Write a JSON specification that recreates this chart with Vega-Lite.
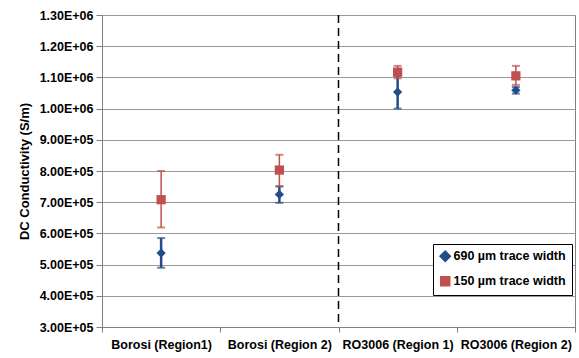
{
  "$schema": "https://vega.github.io/schema/vega-lite/v6.json",
  "autosize": "none",
  "width": 473,
  "height": 312,
  "padding": {"left": 102, "top": 15, "right": 4, "bottom": 31},
  "background": "white",
  "config": {
    "font": "Liberation Sans",
    "view": {"stroke": "#808080", "strokeWidth": 1},
    "axisY": {
      "labelFont": "Liberation Sans",
      "labelFontWeight": "bold",
      "labelFontSize": 12.5,
      "labelColor": "black",
      "labelPadding": 3,
      "labelOverlap": false,
      "tickColor": "#808080",
      "tickSize": 6,
      "domainColor": "#808080",
      "gridColor": "#9a9a9a",
      "gridWidth": 1.2,
      "titleFont": "Liberation Sans",
      "titleFontWeight": "bold",
      "titleFontSize": 13,
      "titleColor": "black",
      "titlePadding": 8
    },
    "legend": {
      "orient": "none",
      "legendX": 331,
      "legendY": 229,
      "strokeColor": "black",
      "fillColor": "white",
      "padding": 6,
      "rowPadding": 7,
      "symbolSize": 80,
      "symbolOpacity": 1,
      "symbolStrokeWidth": 0,
      "labelFont": "Liberation Sans",
      "labelFontWeight": "bold",
      "labelFontSize": 12.5,
      "labelColor": "black",
      "labelOffset": 2
    }
  },
  "datasets": {
    "cond": [
      {"sample": "Borosi (Region1)", "trace": "690 µm trace width", "val": 537000, "lo": 490000, "hi": 585000},
      {"sample": "Borosi (Region 2)", "trace": "690 µm trace width", "val": 725000, "lo": 698000, "hi": 750000},
      {"sample": "RO3006 (Region 1)", "trace": "690 µm trace width", "val": 1053000, "lo": 1000000, "hi": 1105000},
      {"sample": "RO3006 (Region 2)", "trace": "690 µm trace width", "val": 1059000, "lo": 1048000, "hi": 1069000},
      {"sample": "Borosi (Region1)", "trace": "150 µm trace width", "val": 708000, "lo": 619000, "hi": 800000},
      {"sample": "Borosi (Region 2)", "trace": "150 µm trace width", "val": 803000, "lo": 752000, "hi": 852000},
      {"sample": "RO3006 (Region 1)", "trace": "150 µm trace width", "val": 1117000, "lo": 1097000, "hi": 1137000},
      {"sample": "RO3006 (Region 2)", "trace": "150 µm trace width", "val": 1105000, "lo": 1076000, "hi": 1137000}
    ],
    "divider": [{"sample": "RO3006 (Region 1)"}]
  },
  "encoding": {
    "x": {
      "field": "sample",
      "type": "nominal",
      "sort": ["Borosi (Region1)", "Borosi (Region 2)", "RO3006 (Region 1)", "RO3006 (Region 2)"],
      "scale": {"paddingInner": 0, "paddingOuter": 0},
      "axis": {
        "title": null,
        "labelAngle": 0,
        "labelFont": "Liberation Sans",
        "labelFontWeight": "bold",
        "labelFontSize": 12.5,
        "labelColor": "black",
        "labelPadding": 6,
        "tickBand": "extent",
        "tickColor": "#808080",
        "tickSize": 5,
        "domainColor": "#808080",
        "grid": false
      }
    }
  },
  "layer": [
    {
      "data": {"name": "divider"},
      "mark": {"type": "rule", "color": "black", "strokeWidth": 1.5, "strokeDash": [8, 5]},
      "encoding": {
        "x": {"field": "sample", "type": "nominal", "bandPosition": 0,
              "sort": ["Borosi (Region1)", "Borosi (Region 2)", "RO3006 (Region 1)", "RO3006 (Region 2)"]}
      }
    },
    {
      "data": {"name": "cond"},
      "encoding": {
        "color": {
          "field": "trace",
          "type": "nominal",
          "scale": {"domain": ["690 µm trace width", "150 µm trace width"], "range": ["#234D8A", "#C0504D"]},
          "legend": {"title": null}
        },
        "strokeWidth": {
          "field": "trace",
          "type": "nominal",
          "scale": {"domain": ["690 µm trace width", "150 µm trace width"], "range": [2.5, 1.5]},
          "legend": null
        }
      },
      "layer": [
        {
          "mark": {"type": "rule"},
          "encoding": {
            "y": {
              "field": "lo",
              "type": "quantitative",
              "title": "DC Conductivity (S/m)",
              "scale": {"domain": [300000, 1300000], "nice": false, "zero": false},
              "axis": {
                "values": [300000, 400000, 500000, 600000, 700000, 800000, 900000, 1000000, 1100000, 1200000, 1300000],
                "labelExpr": "replace(format(datum.value, '.2e'), 'e+', 'E+0')"
              }
            },
            "y2": {"field": "hi"}
          }
        },
        {
          "mark": {"type": "tick", "size": 8, "thickness": 2},
          "encoding": {"y": {"field": "hi", "type": "quantitative", "title": "DC Conductivity (S/m)",
            "axis": {
              "values": [300000, 400000, 500000, 600000, 700000, 800000, 900000, 1000000, 1100000, 1200000, 1300000],
              "labelExpr": "replace(format(datum.value, '.2e'), 'e+', 'E+0')"
            }}}
        },
        {
          "mark": {"type": "tick", "size": 8, "thickness": 2},
          "encoding": {"y": {"field": "lo", "type": "quantitative", "title": "DC Conductivity (S/m)",
            "axis": {
              "values": [300000, 400000, 500000, 600000, 700000, 800000, 900000, 1000000, 1100000, 1200000, 1300000],
              "labelExpr": "replace(format(datum.value, '.2e'), 'e+', 'E+0')"
            }}}
        }
      ]
    },
    {
      "data": {"name": "cond"},
      "mark": {"type": "point", "filled": true, "opacity": 1, "size": 85},
      "encoding": {
        "y": {
          "field": "val",
          "type": "quantitative",
          "title": "DC Conductivity (S/m)",
          "axis": {
            "values": [300000, 400000, 500000, 600000, 700000, 800000, 900000, 1000000, 1100000, 1200000, 1300000],
            "labelExpr": "replace(format(datum.value, '.2e'), 'e+', 'E+0')"
          }
        },
        "color": {
          "field": "trace",
          "type": "nominal",
          "scale": {"domain": ["690 µm trace width", "150 µm trace width"], "range": ["#234D8A", "#C0504D"]},
          "legend": {"title": null}
        },
        "shape": {
          "field": "trace",
          "type": "nominal",
          "scale": {"domain": ["690 µm trace width", "150 µm trace width"], "range": ["diamond", "square"]},
          "legend": {"title": null}
        }
      }
    }
  ]
}
